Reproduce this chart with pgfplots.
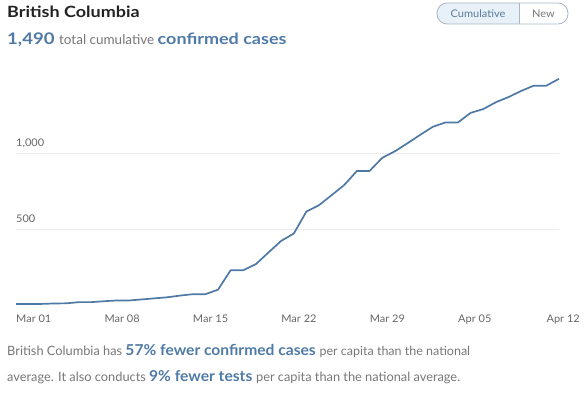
\documentclass[border=0pt]{standalone}
\usepackage{pgfplots}
\pgfplotsset{compat=1.18}
\usepackage{fontspec}
\setmainfont{Lato}
\newfontfamily\widefont{Lato}[FakeStretch=1.16]
\newfontfamily\bwide{Lato}[FakeStretch=1.04]
\newfontfamily\tickfont{Lato}[FakeStretch=1.05]
\definecolor{lineblue}{HTML}{4E79A5}
\definecolor{txtblue}{HTML}{4F7AA6}
\definecolor{greytxt}{HTML}{777777}
\definecolor{ticktxt}{HTML}{666666}
\definecolor{gridc}{HTML}{EBEBEB}
\definecolor{titlec}{HTML}{222222}
\definecolor{bordc}{HTML}{A9B7C4}
\definecolor{btnfill}{HTML}{E8F0F8}
\begin{document}
\begin{tikzpicture}[x=1pt,y=1pt]
\useasboundingbox (0,0) rectangle (587,392);
\begin{axis}[
  at={(16pt,86.7pt)}, anchor=south west,
  scale only axis, width=543pt, height=228pt,
  xmin=0, xmax=43, ymin=0, ymax=1500,
  axis line style={draw=none},
  major tick length=0pt,
  ytick={500,1000},
  xtick={0,7,14,21,28,35,42},
  xticklabels={Mar 01,Mar 08,Mar 15,Mar 22,Mar 29,Apr 05,Apr 12},
  ymajorgrids, grid style={gridc, line width=0.6pt},
  /pgf/number format/assume math mode=true,
  /pgf/number format/1000 sep={,},
  tick label style={font=\tickfont\fontsize{10.5}{10.5}\selectfont, text=ticktxt},
  yticklabel style={anchor=base west, inner sep=0pt, xshift=0pt, yshift=7pt},
  xticklabel style={anchor=base west, inner sep=0pt, yshift=-17pt},
  clip=false,
]
\addplot[lineblue, line width=1.7pt, line join=round, mark=none] coordinates {
(0,8) (1,8) (2,9) (3,12) (4,13) (5,21) (6,21) (7,27) (8,32) (9,32)
(10,39) (11,46) (12,53) (13,64) (14,73) (15,73) (16,103) (17,231) (18,231) (19,271)
(20,348) (21,424) (22,472) (23,617) (24,659) (25,725) (26,792) (27,884) (28,884) (29,970)
(30,1013) (31,1066) (32,1121) (33,1174) (34,1203) (35,1203) (36,1266) (37,1291) (38,1336) (39,1370)
(40,1410) (41,1445) (42,1445) (43,1490)
};
\end{axis}
% title
\node[anchor=base west, inner sep=0pt, text=titlec] at (7,374) {\widefont\fontsize{15.5}{15.5}\selectfont\bfseries British Columbia};
\node[anchor=base west, inner sep=0pt] at (7,347) {\widefont\fontsize{16}{16}\selectfont\bfseries\color{txtblue}1,490 \normalfont\fontsize{13.5}{13.5}\selectfont\color{greytxt}total cumulative \widefont\fontsize{15.5}{15.5}\selectfont\bfseries\color{txtblue}confirmed cases};
% toggle
\begin{scope}
\clip[rounded corners=10pt] (437,368) rectangle (568,389);
\fill[btnfill] (437,368) rectangle (519,389);
\end{scope}
\draw[bordc, line width=0.8pt, rounded corners=10pt] (437,368) rectangle (568,389);
\draw[bordc, line width=0.8pt] (519,368) -- (519,389);
\node[text=txtblue!80!gray, inner sep=0pt] at (478,378.5) {\tickfont\fontsize{10.5}{10.5}\selectfont Cumulative};
\node[text=greytxt, inner sep=0pt] at (543.5,378.5) {\tickfont\fontsize{10.5}{10.5}\selectfont New};
% bottom text
\node[anchor=base west, inner sep=0pt, text=greytxt] at (7,37) {\fontsize{12.8}{12.8}\selectfont British Columbia has \bwide\fontsize{15}{15}\selectfont\bfseries\color{txtblue}57\% fewer confirmed cases \normalfont\fontsize{12.5}{12.5}\selectfont\color{greytxt}per capita than the national};
\node[anchor=base west, inner sep=0pt, text=greytxt] at (7,11) {\fontsize{12.8}{12.8}\selectfont average. It also conducts \bwide\fontsize{15}{15}\selectfont\bfseries\color{txtblue}9\% fewer tests \normalfont\fontsize{12.8}{12.8}\selectfont\color{greytxt}per capita than the national average.};
\end{tikzpicture}
\end{document}
